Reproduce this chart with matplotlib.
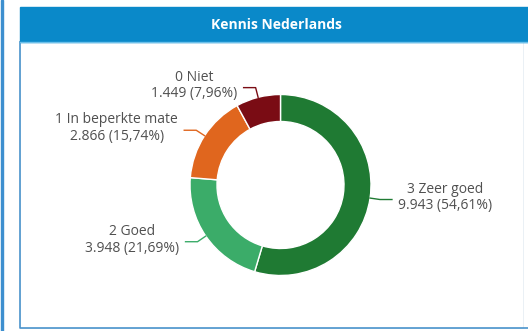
import numpy as np
import matplotlib.pyplot as plt
from matplotlib.patches import Rectangle

plt.rcParams['font.family'] = ['Open Sans', 'DejaVu Sans']

# answer counts, in clockwise order starting at twelve o'clock
labels = ['3 Zeer goed', '2 Goed', '1 In beperkte mate', '0 Niet']
counts = [9943, 3948, 2866, 1449]
colors = ['#1f7a33', '#3bac69', '#e0661e', '#7a0c14']
title = 'Kennis Nederlands'

W, H = 528, 331
fig = plt.figure(figsize=(W / 100, H / 100), dpi=100)
ax = fig.add_axes([0, 0, 1, 1])

# panel frame and header bar (pixel coords, y pointing up)
ax.add_patch(Rectangle((1, 0), 2, H, color='#3d8fcf', zorder=0))
ax.add_patch(Rectangle((20, 3), 503, 286, facecolor='white',
                       edgecolor='#e6eef4', lw=0.6, zorder=0))
ax.plot([20, 20, 528], [289, 3, 3], color='#4a93cc', lw=1.2, zorder=1)
ax.add_patch(Rectangle((20, H - 42), 508, 35, color='#0a89c9', zorder=1))
ax.plot([20, 528], [H - 42, H - 42], color='#6cc0ea', lw=1, zorder=2)
ax.text(276, H - 25, title, color='white', fontsize=10, fontweight='bold',
        ha='center', va='center', zorder=3)

cx, cy, R, width = 280.5, H - 185, 90.5, 27
ax.pie(counts, colors=colors, startangle=90, counterclock=False,
       radius=R, center=(cx, cy),
       wedgeprops=dict(width=width, edgecolor='white', linewidth=1))

total = sum(counts)
frac = np.array(counts) / total
ends = np.cumsum(frac)
mids = ends - frac / 2

for lab, n, f, m, col in zip(labels, counts, frac, mids, colors):
    theta = np.radians(90 - 360 * m)
    x0, y0 = cx + R * np.cos(theta), cy + R * np.sin(theta)
    x1, y1 = cx + (R + 10) * np.cos(theta), cy + (R + 10) * np.sin(theta)
    side = 1 if np.cos(theta) >= 0 else -1
    x2 = x1 + side * 12
    ax.plot([x0, x1, x2], [y0, y1, y1], color=col, lw=1, zorder=3)
    txt = '{}\n{} ({}%)'.format(lab, f'{n:,}'.replace(',', '.'),
                                f'{100 * f:.2f}'.replace('.', ','))
    ax.text(x2 + side * 6, y1 + 2, txt, color='#505050', fontsize=10,
            ha='left' if side > 0 else 'right', va='center',
            multialignment='center', linespacing=1.15, zorder=3)

ax.set_xlim(0, W)
ax.set_ylim(0, H)
ax.set_aspect('auto')
ax.set_axis_off()

fig.savefig('out.png', dpi=100)
